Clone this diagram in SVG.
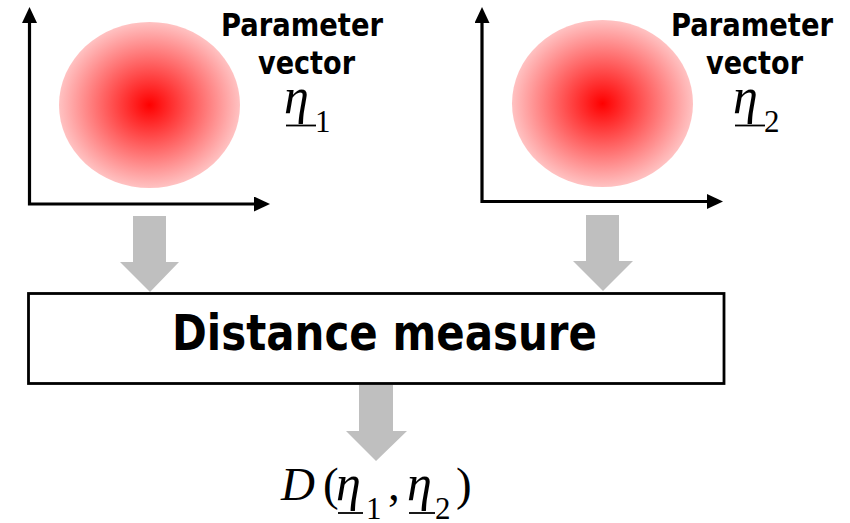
<svg xmlns="http://www.w3.org/2000/svg" width="850" height="523" viewBox="0 0 850 523">
<style>
.axis{fill:none;stroke:#000;stroke-width:3.2;marker-start:url(#ah);marker-end:url(#ah)}
.blob{fill:url(#rg)}
.lbl{font-family:"DejaVu Sans","Liberation Sans",sans-serif;font-weight:bold;fill:#000}
.box{fill:#fff;stroke:#000;stroke-width:2.8}
.flow{fill:#bfbfbf}
.mi{font-family:"Liberation Serif","DejaVu Serif",serif;font-style:italic;fill:#000}
.mn{font-family:"Liberation Serif","DejaVu Serif",serif;fill:#000}
.ul{stroke:#000;stroke-width:1.8}
</style>
<defs>
<radialGradient id="rg" cx="50%" cy="50%" r="50%">
<stop offset="0" stop-color="#ff0000"/>
<stop offset="1" stop-color="#ffc2c2"/>
</radialGradient>
<marker id="ah" viewBox="0 0 16 15" refX="0" refY="7.5" markerWidth="16" markerHeight="15" markerUnits="userSpaceOnUse" orient="auto-start-reverse">
<path d="M0,0 L16,7.5 L0,15 z" fill="#000"/>
</marker>
</defs>

<g id="plot1">
<path class="axis" d="M29.5,23 L29.5,204 L254,204"/>
<ellipse class="blob" cx="149.5" cy="105" rx="90.5" ry="83"/>
<text class="lbl" x="221" y="36" font-size="32" textLength="162" lengthAdjust="spacingAndGlyphs">Parameter</text>
<text class="lbl" x="258" y="74" font-size="32" textLength="97" lengthAdjust="spacingAndGlyphs">vector</text>
<text class="mi" x="284" y="113" font-size="50">η</text>
<line class="ul" x1="286" y1="125.5" x2="316" y2="125.5"/>
<text class="mn" x="315" y="132" font-size="31">1</text>
</g>

<g id="plot2">
<path class="axis" d="M482,23 L482,201.5 L707,201.5"/>
<ellipse class="blob" cx="602.5" cy="103.5" rx="90.5" ry="83.5"/>
<text class="lbl" x="671" y="36" font-size="32" textLength="162" lengthAdjust="spacingAndGlyphs">Parameter</text>
<text class="lbl" x="706" y="74" font-size="32" textLength="97" lengthAdjust="spacingAndGlyphs">vector</text>
<text class="mi" x="733" y="113" font-size="50">η</text>
<line class="ul" x1="735" y1="125.5" x2="765" y2="125.5"/>
<text class="mn" x="764" y="132" font-size="31">2</text>
</g>

<g id="distance">
<rect class="box" x="28.5" y="293.5" width="695.5" height="90"/>
<text class="lbl" x="172" y="350" font-size="49" textLength="425" lengthAdjust="spacingAndGlyphs">Distance measure</text>
</g>

<g id="connectors">
<polygon class="flow" points="133,216 166,216 166,262 179,262 150,292 120,262 133,262"/>
<polygon class="flow" points="586,215 619,215 619,261 633,261 603,291 573,261 586,261"/>
<polygon class="flow" points="359,385 393,385 393,431 407,431 376,461 346,431 359,431"/>
</g>

<g id="result">
<text class="mi" x="281" y="500" font-size="47">D</text>
<text class="mn" x="323" y="500" font-size="47">(</text>
<text class="mi" x="336" y="500" font-size="50">η</text>
<line class="ul" x1="338" y1="513" x2="363" y2="513"/>
<text class="mn" x="366" y="519" font-size="31">1</text>
<text class="mn" x="388" y="500" font-size="47">,</text>
<text class="mi" x="407" y="500" font-size="50">η</text>
<line class="ul" x1="409" y1="513" x2="435" y2="513"/>
<text class="mn" x="435" y="519" font-size="31">2</text>
<text class="mn" x="456" y="500" font-size="47">)</text>
</g>
</svg>
